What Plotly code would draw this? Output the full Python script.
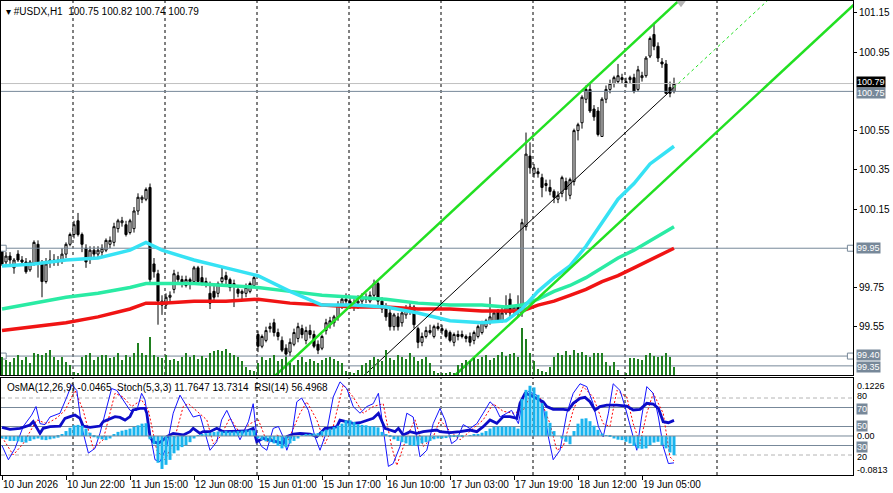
import plotly.graph_objects as go

# ---------------- price data (H1 bars, index 0..168) ----------------
open_ = [99.94, 99.88, 99.91, 99.85, 99.92, 99.89, 99.88, 99.84, 99.87, 99.97,
         99.87, 99.78, 99.88, 99.89, 99.88, 99.89, 99.92, 99.97, 100.02, 100.09,
         100.02, 99.95, 99.90, 99.94, 99.92, 99.93, 99.94, 99.97, 99.98, 100.05,
         100.08, 100.07, 100.03, 100.05, 100.14, 100.20, 100.20, 100.26, 99.87, 99.82,
         99.66, 99.66, 99.70, 99.74, 99.81, 99.79, 99.76, 99.79, 99.78, 99.85,
         99.80, 99.78, 99.72, 99.73, 99.72, 99.78, 99.81, 99.79, 99.76, 99.74,
         99.72, 99.72, 99.73, 99.76, 99.51, 99.45, 99.48, 99.54, 99.57, 99.52,
         99.48, 99.44, 99.42, 99.46, 99.49, 99.54, 99.48, 99.53, 99.51, 99.46,
         99.44, 99.53, 99.56, 99.57, 99.60, 99.66, 99.69, 99.68, 99.66, 99.67,
         99.68, 99.70, 99.68, 99.71, 99.77, 99.68, 99.65, 99.62, 99.55, 99.60,
         99.57, 99.61, 99.63, 99.65, 99.54, 99.47, 99.50, 99.53, 99.50, 99.55,
         99.54, 99.53, 99.52, 99.47, 99.51, 99.50, 99.50, 99.50, 99.48, 99.50,
         99.52, 99.55, 99.57, 99.58, 99.63, 99.58, 99.62, 99.69, 99.63, 99.65,
         99.62, 100.06, 100.42, 100.33, 100.34, 100.31, 100.27, 100.26, 100.24, 100.20,
         100.23, 100.29, 100.22, 100.29, 100.55, 100.59, 100.71, 100.76, 100.66, 100.65,
         100.52, 100.71, 100.76, 100.79, 100.80, 100.82, 100.79, 100.81, 100.82, 100.76,
         100.82, 100.83, 100.93, 101.04, 100.98, 100.90, 100.89, 100.77, 100.75]
high = [99.96, 99.93, 99.93, 99.90, 99.94, 99.91, 99.90, 99.89, 99.99, 99.99,
        99.89, 99.90, 99.94, 99.92, 99.91, 99.95, 99.98, 100.03, 100.09, 100.13,
        100.03, 99.97, 99.96, 99.96, 99.96, 99.97, 100.00, 100.01, 100.08, 100.10,
        100.11, 100.09, 100.10, 100.16, 100.23, 100.22, 100.26, 100.28, 99.90, 99.84,
        99.71, 99.72, 99.73, 99.84, 99.83, 99.81, 99.81, 99.80, 99.86, 99.86,
        99.86, 99.80, 99.78, 99.76, 99.78, 99.85, 99.83, 99.80, 99.79, 99.76,
        99.74, 99.77, 99.78, 99.81, 99.53, 99.51, 99.55, 99.57, 99.59, 99.54,
        99.50, 99.46, 99.49, 99.54, 99.57, 99.56, 99.55, 99.56, 99.53, 99.48,
        99.51, 99.59, 99.60, 99.61, 99.68, 99.71, 99.72, 99.70, 99.69, 99.71,
        99.72, 99.72, 99.73, 99.79, 99.78, 99.70, 99.67, 99.64, 99.62, 99.62,
        99.63, 99.66, 99.67, 99.66, 99.55, 99.52, 99.55, 99.56, 99.56, 99.57,
        99.56, 99.54, 99.53, 99.52, 99.53, 99.53, 99.51, 99.52, 99.53, 99.56,
        99.58, 99.59, 99.70, 99.63, 99.64, 99.66, 99.71, 99.72, 99.66, 99.71,
        100.10, 100.54, 100.49, 100.38, 100.36, 100.33, 100.30, 100.30, 100.25, 100.24,
        100.32, 100.31, 100.31, 100.56, 100.59, 100.73, 100.78, 100.79, 100.68, 100.67,
        100.72, 100.78, 100.81, 100.83, 100.89, 100.84, 100.82, 100.83, 100.84, 100.88,
        100.85, 100.93, 101.03, 101.10, 101.00, 100.92, 100.91, 100.80, 100.82]
low = [99.86, 99.86, 99.87, 99.82, 99.88, 99.86, 99.82, 99.83, 99.86, 99.80,
       99.70, 99.77, 99.85, 99.86, 99.86, 99.87, 99.90, 99.96, 100.00, 100.01,
       99.93, 99.85, 99.87, 99.89, 99.90, 99.91, 99.93, 99.95, 99.96, 100.03,
       100.06, 100.01, 100.02, 100.03, 100.12, 100.18, 100.19, 99.77, 99.80, 99.56,
       99.61, 99.64, 99.68, 99.72, 99.77, 99.75, 99.75, 99.74, 99.77, 99.77,
       99.76, 99.75, 99.64, 99.68, 99.70, 99.76, 99.76, 99.73, 99.65, 99.70,
       99.68, 99.70, 99.72, 99.75, 99.42, 99.44, 99.47, 99.52, 99.50, 99.48,
       99.42, 99.38, 99.40, 99.45, 99.47, 99.49, 99.46, 99.49, 99.44, 99.41,
       99.43, 99.51, 99.54, 99.55, 99.58, 99.64, 99.66, 99.64, 99.63, 99.64,
       99.66, 99.67, 99.67, 99.70, 99.66, 99.62, 99.58, 99.53, 99.53, 99.53,
       99.55, 99.59, 99.61, 99.54, 99.44, 99.45, 99.49, 99.51, 99.49, 99.53,
       99.51, 99.49, 99.47, 99.45, 99.48, 99.49, 99.47, 99.45, 99.46, 99.49,
       99.51, 99.54, 99.56, 99.57, 99.57, 99.57, 99.61, 99.60, 99.61, 99.60,
       99.60, 100.04, 100.33, 100.31, 100.31, 100.21, 100.24, 100.22, 100.18, 100.18,
       100.21, 100.19, 100.20, 100.27, 100.50, 100.56, 100.69, 100.64, 100.60, 100.52,
       100.52, 100.69, 100.74, 100.77, 100.79, 100.79, 100.77, 100.79, 100.74, 100.75,
       100.80, 100.82, 100.92, 100.96, 100.90, 100.87, 100.74, 100.72, 100.74]
close = [99.87, 99.91, 99.89, 99.89, 99.89, 99.88, 99.83, 99.88, 99.98, 99.88,
         99.78, 99.87, 99.89, 99.88, 99.89, 99.92, 99.97, 100.02, 100.07, 100.02,
         99.97, 99.88, 99.94, 99.92, 99.94, 99.95, 99.99, 99.99, 100.06, 100.09,
         100.09, 100.02, 100.09, 100.14, 100.21, 100.21, 100.25, 99.79, 99.83, 99.68,
         99.68, 99.70, 99.71, 99.82, 99.79, 99.77, 99.79, 99.78, 99.85, 99.78,
         99.77, 99.77, 99.67, 99.70, 99.77, 99.80, 99.79, 99.75, 99.77, 99.72,
         99.73, 99.75, 99.77, 99.80, 99.45, 99.50, 99.53, 99.55, 99.52, 99.50,
         99.43, 99.41, 99.47, 99.52, 99.55, 99.51, 99.53, 99.51, 99.45, 99.43,
         99.50, 99.57, 99.58, 99.60, 99.66, 99.69, 99.68, 99.66, 99.67, 99.68,
         99.70, 99.69, 99.71, 99.77, 99.68, 99.64, 99.60, 99.55, 99.61, 99.55,
         99.62, 99.64, 99.65, 99.56, 99.47, 99.50, 99.53, 99.52, 99.55, 99.54,
         99.53, 99.50, 99.48, 99.51, 99.50, 99.51, 99.49, 99.47, 99.52, 99.55,
         99.57, 99.58, 99.60, 99.62, 99.58, 99.62, 99.65, 99.62, 99.65, 99.62,
         100.08, 100.43, 100.36, 100.36, 100.33, 100.26, 100.28, 100.24, 100.21, 100.22,
         100.31, 100.25, 100.30, 100.55, 100.58, 100.72, 100.76, 100.65, 100.62, 100.53,
         100.71, 100.76, 100.79, 100.82, 100.83, 100.81, 100.80, 100.82, 100.75, 100.86,
         100.83, 100.92, 101.02, 100.98, 100.92, 100.89, 100.74, 100.74, 100.79]
volume = [1800, 1500, 1300, 1700, 2000, 1500, 1800, 1200, 2200, 2100,
          2000, 2200, 2500, 1800, 1500, 1800, 1300, 1000, 300, 200,
          1800, 2000, 2200, 1500, 1800, 2000, 2000, 1700, 1800, 2200,
          1500, 2000, 1800, 2200, 3200, 2200, 2000, 3800, 2000, 1800,
          1700, 2000, 1500, 1600, 1400, 1800, 2200, 1800, 2000, 1600,
          1900, 1700, 2200, 2400, 2500, 2400, 2600, 2200, 2000, 1800,
          1400, 800, 500, 400, 1200, 1800, 1500, 1700, 2000, 1400,
          1600, 1800, 1200, 1000, 1500, 1800, 1300, 1600, 1400, 1200,
          1500, 1700, 1800, 1600, 1400, 1200, 400, 300, 200, 500,
          1000, 1200, 1500, 1800, 1600, 1400, 2500, 1700, 1500, 2000,
          1800, 1600, 2200, 1800, 1400, 1600, 1800, 1200, 400, 200,
          100, 200, 300, 200, 1000, 1200, 1500, 1400, 1700, 1600,
          1800, 2000, 1500, 1700, 2000, 2300, 1900, 2100, 2200, 1800,
          4700, 3600, 2200, 1400, 600, 400, 300, 800, 1800, 2200,
          2000, 2400, 2000, 2500, 2200, 2300, 2000, 1800, 2200, 2200,
          2200, 1300, 900, 1300, 500, 0, 200, 1700, 1700, 1600,
          1500, 2000, 2200, 1900, 1800, 1900, 2200, 1800, 800]
bars = list(range(len(close)))

time_tick_bars = [0, 16, 32, 48, 64, 80, 96, 112, 128, 144, 160]
time_tick_text = ["10 Jun 2026", "10 Jun 22:00", "11 Jun 15:00", "12 Jun 08:00",
                  "15 Jun 01:00", "15 Jun 17:00", "16 Jun 10:00", "17 Jun 03:00",
                  "17 Jun 19:00", "18 Jun 12:00", "19 Jun 05:00"]
day_sep_main = [17.75, 40.75, 63.75, 86.75, 109.75, 132.75, 155.75, 178.75]
day_sep_sub = [17.75, 63.75, 86.75, 109.75, 132.75, 155.75, 178.75]

# moving averages (sampled bars)
ma_bars = [0, 8, 16, 24, 32, 36, 40, 48, 56, 64, 72, 80, 88, 96, 104, 112, 120, 126,
           130, 134, 138, 142, 146, 150, 154, 158, 162, 168]
ma_fast = [99.86, 99.87, 99.89, 99.90, 99.94, 99.98, 99.94, 99.89, 99.85, 99.81, 99.73,
           99.66, 99.66, 99.65, 99.62, 99.58, 99.57, 99.58, 99.64, 99.73, 99.80, 99.86,
           99.96, 100.08, 100.20, 100.28, 100.38, 100.47]
ma_mid = [99.64, 99.67, 99.70, 99.72, 99.75, 99.77, 99.77, 99.77, 99.76, 99.75, 99.73,
          99.71, 99.70, 99.69, 99.67, 99.66, 99.66, 99.65, 99.66, 99.69, 99.73, 99.76,
          99.80, 99.85, 99.90, 99.94, 99.99, 100.06]
ma_slow = [99.53, 99.55, 99.57, 99.60, 99.64, 99.67, 99.67, 99.68, 99.68, 99.69, 99.67,
           99.66, 99.65, 99.65, 99.64, 99.64, 99.63, 99.63, 99.63, 99.66, 99.68, 99.71,
           99.74, 99.78, 99.81, 99.85, 99.89, 99.95]

# equidistant channel anchors
channel_bars = [120, 168]
channel_upper = [100.28, 101.19]
channel_middle = [99.86, 100.77]
channel_lower = [99.43, 100.34]

# horizontal price lines
hline_last = 100.79
hline_levels = [100.75, 99.95, 99.40, 99.35]
price_ticks = [99.55, 99.75, 100.15, 100.35, 100.55, 100.95, 101.15]

# ---------------- indicator data ----------------
osma = [-0.006, -0.008, -0.012, -0.012, -0.013, -0.015, -0.016, -0.012, -0.008, -0.006,
        -0.009, -0.010, -0.008, -0.006, -0.004, 0.003, 0.012, 0.020, 0.026, 0.027,
        0.025, 0.018, 0.008, -0.003, -0.006, -0.008, -0.010, -0.006, 0.004, 0.010,
        0.013, 0.015, 0.018, 0.022, 0.026, 0.030, 0.031, -0.008, -0.020, -0.065,
        -0.080, -0.070, -0.058, -0.042, -0.035, -0.027, -0.022, -0.015, -0.006, 0.002,
        0.005, 0.007, 0.008, 0.010, 0.011, 0.011, 0.012, 0.011, 0.011, 0.012,
        0.013, 0.014, 0.015, 0.014, -0.006, -0.010, -0.013, -0.015, -0.018, -0.024,
        -0.030, -0.027, -0.018, -0.012, -0.006, 0.002, 0.004, 0.005, 0.006, 0.007,
        0.012, 0.015, 0.018, 0.022, 0.025, 0.030, 0.038, 0.038, 0.034, 0.029,
        0.027, 0.026, 0.024, 0.023, 0.021, 0.010, 0.004, -0.002, -0.008, -0.012,
        -0.015, -0.018, -0.022, -0.024, -0.022, -0.018, -0.015, -0.012, -0.008, -0.006,
        -0.006, -0.005, -0.003, -0.002, -0.002, -0.001, 0.000, 0.001, 0.003, 0.005,
        0.008, 0.012, 0.018, 0.022, 0.023, 0.023, 0.023, 0.023, 0.022, 0.018,
        0.090, 0.112, 0.122, 0.118, 0.100, 0.080, 0.060, 0.032, 0.012, 0.000,
        -0.006, -0.014, -0.020, 0.012, 0.030, 0.042, 0.043, 0.036, 0.025, 0.015,
        0.006, 0.002, -0.002, -0.006, -0.009, -0.010, -0.014, -0.018, -0.024, -0.030,
        -0.031, -0.030, -0.022, -0.016, -0.014, -0.022, -0.030, -0.040, -0.0465]

rsi_bars = [0, 2, 4.5, 7, 7.8, 8.7, 9.5, 10.3, 12, 14.5,
            15.75, 17, 18.25, 19.5, 20.3, 22, 24.5, 25.3, 27, 28.25,
            29.5, 30.75, 32, 32.8, 34.5, 35.75, 36.2, 37, 37.8, 39.1,
            40.3, 41.2, 42.8, 45.3, 47, 47.8, 49.5, 50.3, 52, 53.7,
            55.3, 57, 59.5, 61.2, 62.8, 63.7, 65.3, 67, 68.7, 70.3,
            71.2, 72.8, 74.5, 77, 78.7, 79.5, 80.75, 82, 83.7, 84.5,
            86.2, 87.8, 89.5, 91.2, 92.8, 94.1, 94.9, 95.75, 97, 98.25,
            99.1, 100.3, 102, 103.7, 105.3, 107, 108.7,
            109.5, 112, 114.5, 117, 118.7, 120.3, 122, 123.7, 125.3, 127,
            128.7, 129.5, 130.75, 132, 133.7, 135.3, 136.2, 137.8, 140.3, 141.6,
            142.8, 144.5, 145.75, 147, 148.25, 149.5, 151.2, 153.7, 156.2, 157.8,
            159.5, 161.2, 162.8, 164.1, 165.3, 166.6, 168]
rsi_vals = [49.1, 47.0, 48.1, 51.6, 55.1, 48.1, 42.8, 48.1, 49.8, 50.5,
            58.6, 60.4, 62.1, 58.6, 50.5, 49.1, 50.5, 55.1, 58.6, 60.4,
            59.6, 56.8, 60.4, 67.4, 69.1, 69.1, 63.9, 39.3, 34.0, 32.3,
            35.8, 39.3, 42.8, 41.1, 44.6, 48.1, 42.8, 44.6, 44.6, 48.1,
            44.6, 44.6, 44.6, 45.3, 48.1, 34.0, 37.5, 35.8, 34.0, 32.3,
            39.3, 42.1, 42.8, 42.1, 39.3, 42.8, 48.1, 48.1, 49.8, 56.8,
            55.1, 53.3, 54.0, 56.8, 58.6, 63.9, 56.8, 48.1, 46.3, 44.6,
            48.1, 41.1, 44.6, 42.8, 44.6, 45.6, 46.3,
            44.6, 43.5, 44.6, 46.3, 44.6, 49.8, 56.8, 53.3, 60.4, 60.4,
            58.6, 74.4, 84.9, 83.2, 79.6, 76.1, 70.9, 68.1, 68.1, 67.4,
            74.4, 79.6, 80.7, 76.1, 67.4, 70.9, 72.6, 72.6, 71.6, 67.4,
            68.1, 74.4, 73.7, 69.1, 55.1, 54.0, 56.5]

stoch_main_bars = [0, 1.6, 3.25, 5.3, 7.4, 8.5, 9.5, 10.75, 12, 14.5,
                   16.2, 17.4, 18.7, 19.9, 21.6, 23.25, 24.5, 26.2, 27.4, 28.7,
                   30.3, 32, 33.7, 34.9, 35.75, 37, 38.25, 39.5, 41.2, 42.8,
                   44.5, 46.2, 47.8, 49.5, 50.75, 52, 53.7, 54.9, 56.2, 57.8,
                   59.5, 61.6, 62.8, 63.7, 64.9, 66.2, 67.8, 69.1, 70.3, 71.2,
                   72.4, 73.7, 74.9, 76.6, 78.25, 79.5, 81.2, 82.8, 84.5, 86.2,
                   87.8, 89.5, 91.2, 92.8, 94.1, 95.3, 96.6, 97.8, 99.5, 101.2,
                   102.8, 104.5, 106.2, 107.8, 109.5, 110.75, 112.4, 113.7, 115.3, 117,
                   118.7, 120.3, 122, 123.25, 124.5, 126.2, 127.4, 129.1, 130.3, 131.6,
                   133.7, 135.3, 136.6, 137.8, 139.5, 141.2, 142.8, 144.5, 146.2, 147.8,
                   149.1, 150.3, 151.6, 152.8, 154.5, 155.75, 157.4, 158.7, 159.9, 161.2,
                   162.8, 164.1, 165.3, 166.6, 168]
stoch_main_vals = [30, 15, 27, 50, 62, 71, 53, 52, 60, 64,
                   81, 94, 88, 50, 22, 27, 43, 71, 90, 88,
                   78, 67, 67, 85, 78, 43, 15, 13, 29, 64,
                   83, 71, 60, 62, 43, 25, 34, 57, 67, 52,
                   36, 55, 74, 39, 29, 25, 48, 50, 39, 25,
                   39, 76, 80, 67, 39, 25, 45, 81, 97, 90,
                   71, 64, 71, 74, 85, 48, 8, 11, 29, 64,
                   60, 18, 25, 53, 69, 57, 32, 36, 52, 48,
                   53, 64, 76, 71, 60, 64, 67, 53, 81, 87,
                   83, 71, 39, 15, 25, 64, 85, 95, 92, 74,
                   50, 39, 64, 95, 88, 71, 46, 25, 60, 92,
                   85, 60, 29, 11, 11.76]

stoch_sig_bars = [0, 2.8, 5.3, 8.7, 11.2, 13.7, 15.75, 18.25, 20.3, 22.8,
                  25.3, 28.25, 30.3, 32.4, 34.9, 36.6, 38.7, 40.75, 42.8, 45.3,
                  46.6, 48.7, 51.2, 52.8, 54.5, 57, 59.5, 62, 64.1, 66.2,
                  68.7, 71.6, 74.5, 76.2, 78.7, 80.75, 82.8, 85.3, 87.8, 90.3,
                  92.8, 95.3, 97.4, 98.7, 101.2, 103.25, 105.3, 107.8, 109.5, 112,
                  114.5, 117, 120.3, 122.8, 125.3, 127.8, 130.3, 132.4, 134.5, 137,
                  138.7, 140.3, 142.8, 145.3, 147.8, 150.3, 152, 153.7, 156.2, 157.8,
                  159.5, 161.2, 162.8, 165.3, 167, 168]
stoch_sig_vals = [39, 20, 32, 57, 53, 59, 67, 88, 67, 27,
                  36, 85, 81, 71, 78, 67, 25, 15, 32, 71,
                  74, 66, 57, 32, 39, 59, 43, 53, 57, 34,
                  41, 36, 64, 76, 57, 32, 50, 94, 81, 64,
                  71, 74, 29, 9, 39, 57, 29, 39, 57, 45,
                  36, 45, 57, 74, 66, 64, 67, 85, 80, 53,
                  25, 29, 67, 92, 81, 53, 50, 88, 81, 53,
                  32, 64, 85, 64, 18, 13.73]

osc_levels_solid = [70, 50, 30]
osc_levels_dash = [80, 20]

# ---------------- helpers ----------------
X_RANGE = [-0.25, 212.75]
FONT = "Liberation Sans"
SLATE = "#778899"


def ray(anchor_x, anchor_y, x0, x1):
    k = (anchor_y[1] - anchor_y[0]) / (anchor_x[1] - anchor_x[0])
    return [x0, x1], [anchor_y[0] + k * (x0 - anchor_x[0]), anchor_y[0] + k * (x1 - anchor_x[0])]


fig = go.Figure()

# volume
fig.add_trace(go.Bar(x=bars, y=volume, xaxis="x", yaxis="y2", width=0.25,
                     marker=dict(color="#1f7f1f", line=dict(width=0)),
                     hoverinfo="skip", showlegend=False))

# horizontal lines
fig.add_trace(go.Scatter(x=X_RANGE, y=[hline_last, hline_last], mode="lines",
                         line=dict(color="#c0c0c0", width=1), xaxis="x", yaxis="y",
                         hoverinfo="skip", showlegend=False))
for lv in hline_levels:
    fig.add_trace(go.Scatter(x=X_RANGE, y=[lv, lv], mode="lines",
                             line=dict(color=SLATE, width=1), xaxis="x", yaxis="y",
                             hoverinfo="skip", showlegend=False))
fig.add_trace(go.Scatter(x=[0.3, 0.3, 212.1, 212.1], y=[99.95, 99.40, 99.95, 99.40],
                         mode="markers", marker=dict(symbol="square", size=6, color="white",
                                                     line=dict(color=SLATE, width=1)),
                         xaxis="x", yaxis="y", hoverinfo="skip", showlegend=False))

# candles
fig.add_trace(go.Candlestick(x=bars, open=open_, high=high, low=low, close=close,
                             increasing=dict(line=dict(color="black", width=1), fillcolor="white"),
                             decreasing=dict(line=dict(color="black", width=1), fillcolor="black"),
                             whiskerwidth=0, xaxis="x", yaxis="y", showlegend=False,
                             hoverinfo="skip"))

# moving averages
for vals, col in [(ma_slow, "#f01414"), (ma_mid, "#2aeba4"), (ma_fast, "#36e2f4")]:
    fig.add_trace(go.Scatter(x=ma_bars, y=vals, mode="lines", line=dict(color=col, width=3.5),
                             xaxis="x", yaxis="y", hoverinfo="skip", showlegend=False))

# channel
LIME = "#22e022"
ux, uy = ray(channel_bars, channel_upper, 60, 175)
fig.add_trace(go.Scatter(x=ux, y=uy, mode="lines", line=dict(color=LIME, width=2.5),
                         xaxis="x", yaxis="y", hoverinfo="skip", showlegend=False))
lx, ly = ray(channel_bars, channel_lower, 105, 215)
fig.add_trace(go.Scatter(x=lx, y=ly, mode="lines", line=dict(color=LIME, width=2.5),
                         xaxis="x", yaxis="y", hoverinfo="skip", showlegend=False))
mx, my = ray(channel_bars, channel_middle, 85, channel_bars[1])
fig.add_trace(go.Scatter(x=mx, y=my, mode="lines", line=dict(color="black", width=1),
                         xaxis="x", yaxis="y", hoverinfo="skip", showlegend=False))
dx, dy = ray(channel_bars, channel_middle, channel_bars[1], 200)
fig.add_trace(go.Scatter(x=dx, y=dy, mode="lines", line=dict(color=LIME, width=1, dash="3px,3px"),
                         xaxis="x", yaxis="y", hoverinfo="skip", showlegend=False))
fig.add_trace(go.Scatter(x=[169.75], y=[101.205], mode="markers",
                         marker=dict(symbol="triangle-down", size=10, color="#b4b4b4"),
                         xaxis="x", yaxis="y", hoverinfo="skip", showlegend=False))

# ---------------- sub window ----------------
fig.add_trace(go.Bar(x=bars, y=osma, xaxis="x2", yaxis="y4", width=0.75,
                     marker=dict(color="#19b4ee", line=dict(width=0)),
                     hoverinfo="skip", showlegend=False))
for lv in osc_levels_dash:
    fig.add_trace(go.Scatter(x=X_RANGE, y=[lv, lv], mode="lines",
                             line=dict(color="#b4b4b4", width=1, dash="4px,3px"),
                             xaxis="x2", yaxis="y3", hoverinfo="skip", showlegend=False))
for lv in osc_levels_solid:
    fig.add_trace(go.Scatter(x=X_RANGE, y=[lv, lv], mode="lines",
                             line=dict(color=SLATE, width=1),
                             xaxis="x2", yaxis="y3", hoverinfo="skip", showlegend=False))
fig.add_trace(go.Scatter(x=X_RANGE, y=[0, 0], mode="lines", line=dict(color=SLATE, width=1),
                         xaxis="x2", yaxis="y4", hoverinfo="skip", showlegend=False))
fig.add_trace(go.Scatter(x=stoch_sig_bars, y=stoch_sig_vals, mode="lines",
                         line=dict(color="#ff0000", width=1, dash="2px,2px"),
                         xaxis="x2", yaxis="y3", hoverinfo="skip", showlegend=False))
fig.add_trace(go.Scatter(x=stoch_main_bars, y=stoch_main_vals, mode="lines",
                         line=dict(color="#1414ff", width=1),
                         xaxis="x2", yaxis="y3", hoverinfo="skip", showlegend=False))
fig.add_trace(go.Scatter(x=rsi_bars, y=rsi_vals, mode="lines",
                         line=dict(color="#0c0cc8", width=2.8),
                         xaxis="x2", yaxis="y3", hoverinfo="skip", showlegend=False))

# ---------------- layout ----------------
MAIN_DOM = [0.211, 1.0]
SUB_DOM = [0.0, 0.2046]
axis_font = dict(family=FONT, size=10, color="black")
small_font = 9

shapes = []
for s in day_sep_main:
    shapes.append(dict(type="line", xref="x", yref="y domain", x0=s, x1=s, y0=0, y1=1,
                       line=dict(color="black", width=1, dash="3px,3px"), layer="below"))
for s in day_sep_sub:
    shapes.append(dict(type="line", xref="x2", yref="y3 domain", x0=s, x1=s, y0=0, y1=1,
                       line=dict(color="black", width=1, dash="3px,3px"), layer="below"))

annotations = []
annotations.append(dict(text="\u25be #USDX,H1  100.75 100.82 100.74 100.79", xref="paper", yref="paper",
                        x=0, y=1, xanchor="left", yanchor="top", xshift=3, yshift=-3,
                        showarrow=False, font=axis_font))
annotations.append(dict(text="OsMA(12,26,9) -0.0465  Stoch(5,3,3) 11.7647 13.7314  RSI(14) 56.4968",
                        xref="paper", yref="y3 domain", x=0, y=1, xanchor="left", yanchor="top",
                        xshift=4, yshift=-2, showarrow=False, font=axis_font))
# price tags
annotations.append(dict(text="%.2f" % hline_last, xref="paper", yref="y", x=1, y=hline_last,
                        xanchor="left", yanchor="middle", xshift=3, yshift=2, showarrow=False,
                        bgcolor="black", borderpad=0,
                        font=dict(family=FONT, size=small_font, color="white")))
for lv in hline_levels:
    annotations.append(dict(text="%.2f" % lv, xref="paper", yref="y", x=1, y=lv,
                            xanchor="left", yanchor="middle", xshift=3,
                            yshift=-2 if lv == 100.75 else (1 if lv == 99.40 else (-1 if lv == 99.35 else 0)),
                            showarrow=False, bgcolor=SLATE, borderpad=0,
                            font=dict(family=FONT, size=small_font, color="white")))
# sub window scale labels
for txt, yr, val, boxed, ysh in [("0.1226", "y4", 0.1226, False, 0), ("80", "y3", 80, False, 2),
                                 ("70", "y3", 70, True, -1), ("50", "y3", 50, True, 1),
                                 ("0.00", "y4", 0.0, False, 0), ("30", "y3", 30, True, -1),
                                 ("20", "y3", 20, False, -2), ("-0.0813", "y4", -0.0813, False, -1)]:
    annotations.append(dict(text=txt, xref="paper", yref=yr, x=1, y=val, xanchor="left",
                            yanchor="middle", xshift=3, yshift=ysh, showarrow=False, borderpad=0,
                            bgcolor=SLATE if boxed else "rgba(0,0,0,0)",
                            font=dict(family=FONT, size=small_font,
                                      color="white" if boxed else "black")))

fig.update_layout(
    width=893, height=493,
    margin=dict(l=1, r=40, t=1, b=18, autoexpand=False),
    paper_bgcolor="white", plot_bgcolor="white",
    showlegend=False, barmode="overlay", boxgap=0.25,
    shapes=shapes, annotations=annotations,
    xaxis=dict(domain=[0, 1], anchor="y", range=X_RANGE, showticklabels=False, ticks="",
               showgrid=False, zeroline=False, showline=True, mirror=True, linecolor="black",
               linewidth=1, rangeslider=dict(visible=False), automargin=False),
    xaxis2=dict(domain=[0, 1], anchor="y3", matches="x", range=X_RANGE,
                tickmode="array", tickvals=time_tick_bars, ticktext=time_tick_text,
                ticks="outside", ticklen=4, tickcolor="black", ticklabelposition="outside right",
                tickangle=0, tickfont=axis_font, showgrid=False, zeroline=False, showline=True,
                mirror=True, linecolor="black", linewidth=1, automargin=False),
    yaxis=dict(domain=MAIN_DOM, anchor="x", side="right", range=[99.3035, 101.211],
               tickmode="array", tickvals=price_ticks, ticktext=["%.2f" % t for t in price_ticks],
               ticks="outside", ticklen=3, tickcolor="black", tickfont=axis_font,
               showgrid=False, zeroline=False, showline=True, mirror=True, linecolor="black",
               linewidth=1, automargin=False),
    yaxis2=dict(domain=MAIN_DOM, anchor="x", overlaying="y", range=[0, 37400], visible=False),
    yaxis3=dict(domain=SUB_DOM, anchor="x2", side="right", range=[-1.05, 101.05],
                showticklabels=False, ticks="", showgrid=False, zeroline=False, showline=True,
                mirror=True, linecolor="black", linewidth=1, automargin=False),
    yaxis4=dict(domain=SUB_DOM, anchor="x2", overlaying="y3", range=[-0.0947, 0.1408],
                visible=False),
)

fig.write_html("out.html")
